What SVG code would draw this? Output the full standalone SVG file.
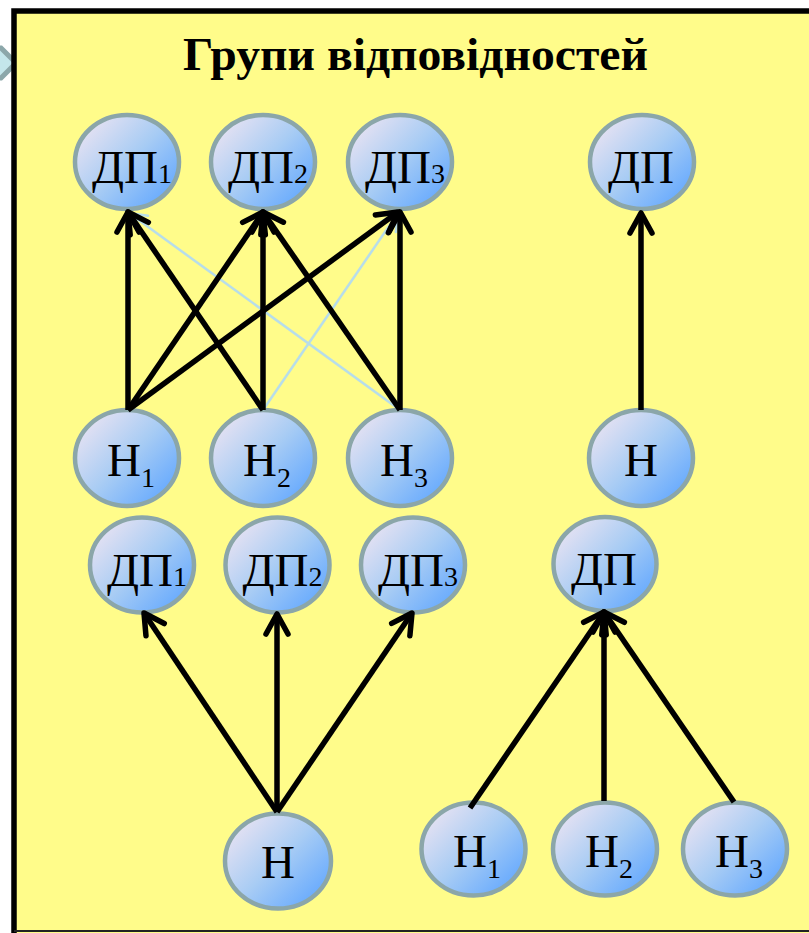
<svg xmlns="http://www.w3.org/2000/svg" width="809" height="933" viewBox="0 0 809 933">
<style>
.nd{fill:url(#g);stroke:#8BA6A9;stroke-width:4.5}
.lb{font-family:"Liberation Serif","Times New Roman",serif;font-size:47px;fill:#000;text-anchor:middle}
.sb{font-size:28px}
.k{fill:none;stroke:#000;stroke-width:5.5;marker-end:url(#a)}
.lt{fill:none;stroke:#B7DDEA;stroke-width:2.5;marker-end:url(#b)}
</style>
<defs>
<linearGradient id="g" x1="0.05" y1="0.1" x2="0.95" y2="0.9">
<stop offset="0" stop-color="#ECE4F2"/>
<stop offset="0.5" stop-color="#A8CCF4"/>
<stop offset="1" stop-color="#5FA6FF"/>
</linearGradient>
<marker id="a" markerUnits="userSpaceOnUse" markerWidth="40" markerHeight="40" viewBox="-30 -20 40 40" refX="0" refY="0" orient="auto" overflow="visible">
<path d="M-20,-11 L0,0 L-20,11" fill="none" stroke="#000" stroke-width="5.5" stroke-linecap="round" stroke-linejoin="round"/>
</marker>
<marker id="b" markerUnits="userSpaceOnUse" markerWidth="40" markerHeight="40" viewBox="-30 -20 40 40" refX="0" refY="0" orient="auto" overflow="visible">
<path d="M-17,-9 L0,0 L-17,9" fill="none" stroke="#B7DDEA" stroke-width="2.5" stroke-linecap="round"/>
</marker>
</defs>
<rect x="0" y="0" width="809" height="933" fill="#fff"/>
<polygon points="-12,48 1,48 16,63 1,78 -12,78" fill="#C4E6EB" stroke="#8CA7AA" stroke-width="5" stroke-linejoin="miter"/>
<rect x="14" y="11" width="810" height="930" fill="#FFFC8A"/>
<path d="M14,936 L14,11 L812,11" fill="none" stroke="#000" stroke-width="5.5"/>
<line x1="14" y1="931" x2="812" y2="931" stroke="#222" stroke-width="2"/>
<text x="415.5" y="70" text-anchor="middle" textLength="465" lengthAdjust="spacingAndGlyphs" style="font-family:'Liberation Serif','Times New Roman',serif;font-weight:bold;font-size:46px;fill:#000">Групи відповідностей</text>

<g id="dp1a"><ellipse class="nd" cx="127" cy="162" rx="52" ry="47"/><text class="lb" x="132" y="183">ДП<tspan class="sb">1</tspan></text></g>
<g id="dp2a"><ellipse class="nd" cx="263" cy="162" rx="52" ry="47"/><text class="lb" x="268" y="183">ДП<tspan class="sb">2</tspan></text></g>
<g id="dp3a"><ellipse class="nd" cx="400" cy="162" rx="52" ry="47"/><text class="lb" x="405" y="183">ДП<tspan class="sb">3</tspan></text></g>
<g id="dpa"><ellipse class="nd" cx="642" cy="162" rx="52" ry="47"/><text class="lb" x="641" y="183">ДП</text></g>

<g id="h1a"><ellipse class="nd" cx="127" cy="458" rx="52" ry="48"/><text class="lb" x="131" y="476">H<tspan class="sb" dy="11">1</tspan></text></g>
<g id="h2a"><ellipse class="nd" cx="263" cy="458" rx="52" ry="48"/><text class="lb" x="267" y="476">H<tspan class="sb" dy="11">2</tspan></text></g>
<g id="h3a"><ellipse class="nd" cx="400" cy="458" rx="52" ry="48"/><text class="lb" x="404" y="476">H<tspan class="sb" dy="11">3</tspan></text></g>
<g id="ha"><ellipse class="nd" cx="641" cy="458" rx="52" ry="48"/><text class="lb" x="641" y="476">H</text></g>

<g id="dp1b"><ellipse class="nd" cx="142" cy="565" rx="52" ry="47.5"/><text class="lb" x="147" y="586">ДП<tspan class="sb">1</tspan></text></g>
<g id="dp2b"><ellipse class="nd" cx="277.5" cy="565" rx="52" ry="47.5"/><text class="lb" x="282.5" y="586">ДП<tspan class="sb">2</tspan></text></g>
<g id="dp3b"><ellipse class="nd" cx="413" cy="565" rx="52" ry="47.5"/><text class="lb" x="418" y="586">ДП<tspan class="sb">3</tspan></text></g>
<g id="dpb"><ellipse class="nd" cx="605" cy="564" rx="51.5" ry="47"/><text class="lb" x="604" y="585">ДП</text></g>

<g id="hb"><ellipse class="nd" cx="278" cy="861" rx="53" ry="47.5"/><text class="lb" x="278" y="878">H</text></g>
<g id="h1b"><ellipse class="nd" cx="473.5" cy="849" rx="52" ry="46.5"/><text class="lb" x="477" y="867">H<tspan class="sb" dy="11">1</tspan></text></g>
<g id="h2b"><ellipse class="nd" cx="605" cy="849" rx="52" ry="46.5"/><text class="lb" x="609" y="867">H<tspan class="sb" dy="11">2</tspan></text></g>
<g id="h3b"><ellipse class="nd" cx="735" cy="849" rx="52" ry="46.5"/><text class="lb" x="739" y="867">H<tspan class="sb" dy="11">3</tspan></text></g>

<g id="connectors">
<line class="lt" x1="263" y1="410" x2="398" y2="213"/>
<line class="lt" x1="400" y1="410" x2="129" y2="213"/>
<line class="k" x1="128" y1="410" x2="128" y2="212"/>
<line class="k" x1="128" y1="410" x2="263" y2="212"/>
<line class="k" x1="128" y1="410" x2="398" y2="212"/>
<line class="k" x1="263" y1="410" x2="128" y2="212"/>
<line class="k" x1="263" y1="410" x2="263" y2="212"/>
<line class="k" x1="400" y1="410" x2="263" y2="212"/>
<line class="k" x1="400" y1="410" x2="400" y2="212"/>
<line class="k" x1="641" y1="410" x2="641" y2="213"/>
<line class="k" x1="277" y1="812" x2="144" y2="613"/>
<line class="k" x1="277" y1="812" x2="277" y2="614"/>
<line class="k" x1="277" y1="812" x2="412" y2="613"/>
<line class="k" x1="470" y1="808" x2="604" y2="612"/>
<line class="k" x1="604" y1="801" x2="604" y2="612"/>
<line class="k" x1="734" y1="802" x2="604" y2="612"/>
</g>
</svg>
